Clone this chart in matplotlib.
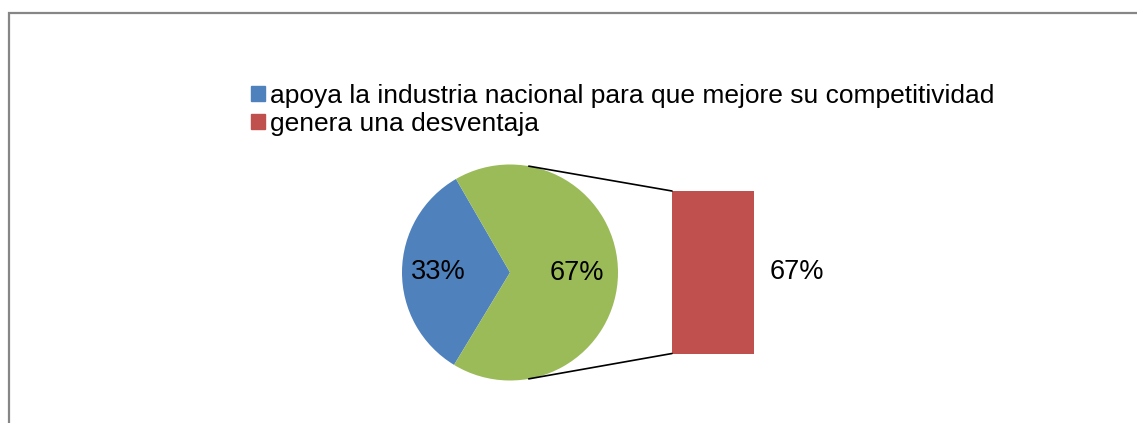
import numpy as np
import matplotlib
matplotlib.use('Agg')
import matplotlib.pyplot as plt
from matplotlib.patches import Patch, Rectangle, ConnectionPatch

plt.rcParams['font.family'] = ['Liberation Sans', 'DejaVu Sans']

# data
categories = ['apoya la industria nacional para que mejore su competitividad',
              'genera una desventaja']
values = [33, 67]
pie_colors = ['#4F81BD', '#9BBB59']
bar_color = '#C0504D'

W, H = 1137, 423
fig = plt.figure(figsize=(W / 100, H / 100), dpi=100)

# main axes in pixel units (y up)
ax = fig.add_axes([0, 0, 1, 1])
cx, cy, r = 510, 423 - 272.5, 108
wedges, texts, autotexts = ax.pie(values, colors=pie_colors, startangle=120,
                                  center=(cx, cy), radius=r,
                                  autopct='%d%%', pctdistance=0.66,
                                  textprops={'fontsize': 19.5, 'color': 'black'})
autotexts[1].set_x(cx + 0.62 * r)
ax.set_xlim(0, W)
ax.set_ylim(0, H)
ax.set_aspect('auto')
ax.axis('off')

# secondary bar ("bar of pie")
ax2 = fig.add_axes([672 / W, (423 - 353.5) / H, 82 / W, 162.5 / H])
ax2.bar([0], [values[1]], width=1, color=bar_color)
ax2.set_xlim(-0.5, 0.5)
ax2.set_ylim(0, values[1])
ax2.axis('off')
ax2.annotate('%d%%' % values[1], xy=(0.5, values[1] / 2), xytext=(16, 0),
             textcoords='offset pixels', ha='left', va='center', fontsize=19.5)

# connector lines
ang = np.deg2rad(80)
for sgn, yb in [(1, values[1]), (-1, 0)]:
    p = (cx + r * np.cos(ang), cy + sgn * r * np.sin(ang))
    con = ConnectionPatch(xyA=p, coordsA=ax.transData, xyB=(-0.5, yb),
                          coordsB=ax2.transData, color='black', lw=1.2)
    fig.add_artist(con)

# legend
handles = [Patch(color=pie_colors[0]), Patch(color=bar_color)]
fig.legend(handles, categories, loc='upper left',
           bbox_to_anchor=(251 / W, 1 - 84 / H), frameon=False,
           fontsize=19, handlelength=0.53, handleheight=0.53,
           handletextpad=0.19, labelspacing=0.14, borderpad=0, borderaxespad=0)

# chart border
fig.add_artist(Rectangle((8.5 / W, -0.2), 1.2, 1.2 - 12.5 / H,
                         transform=fig.transFigure, fill=False,
                         edgecolor='#868686', lw=1.6))

fig.savefig('out.png', dpi=100)
